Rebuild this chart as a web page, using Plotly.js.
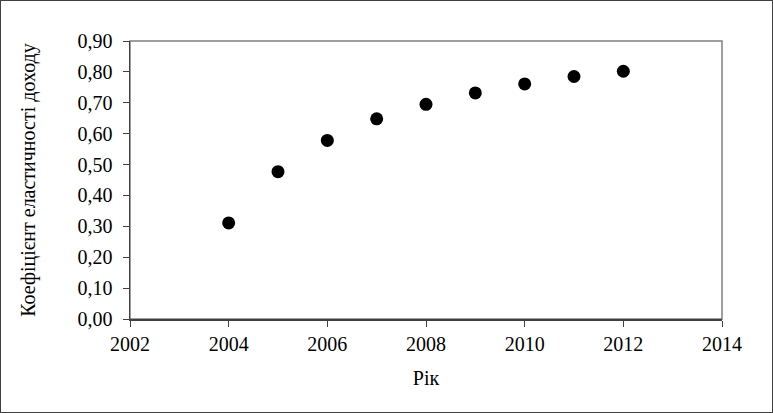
<!DOCTYPE html>
<html>
<head>
<meta charset="utf-8">
<script src="https://cdn.plot.ly/plotly-3.0.1.min.js"></script>
<style>
html,body{margin:0;padding:0;background:#fff;}
#chart{width:771px;height:411px;border:1px solid #404040;}
</style>
</head>
<body>
<div id="chart"></div>
<script>
const years = [2004, 2005, 2006, 2007, 2008, 2009, 2010, 2011, 2012];
const elasticity = [0.311, 0.477, 0.578, 0.648, 0.695, 0.732, 0.761, 0.785, 0.802];
const xTitle = 'Рік';
const yTitle = 'Коефіцієнт еластичності доходу';

const serif = 'Liberation Serif, serif';

Plotly.newPlot('chart', [{
  x: years, y: elasticity, type: 'scatter', mode: 'markers',
  marker: {color: '#000', size: 13},
  hoverinfo: 'skip'
}], {
  width: 771, height: 411,
  margin: {l: 129, r: 50, t: 40, b: 93},
  paper_bgcolor: '#fff', plot_bgcolor: '#fff',
  font: {family: serif, color: '#000', size: 20},
  separators: ', ',
  showlegend: false,
  xaxis: {
    range: [2002, 2014], dtick: 2, tick0: 2002, tickformat: 'd',
    showgrid: false, zeroline: false,
    showline: true, linecolor: '#404040', linewidth: 1.5,
    ticks: 'outside', ticklen: 6, tickcolor: '#404040', tickwidth: 1,
    ticklabelstandoff: 0,
    tickfont: {family: serif, size: 20},
    title: {text: xTitle, font: {family: serif, size: 20}, standoff: 17}
  },
  yaxis: {
    range: [0, 0.9], dtick: 0.1, tick0: 0, tickformat: '.2f',
    showgrid: false, zeroline: false,
    showline: true, linecolor: '#404040', linewidth: 1.5,
    ticks: 'outside', ticklen: 6, tickcolor: '#404040', tickwidth: 1,
    ticklabelstandoff: 6,
    tickfont: {family: serif, size: 20},
    title: {text: yTitle, font: {family: serif, size: 20}, standoff: 36}
  },
  shapes: [{
    type: 'rect', xref: 'paper', yref: 'paper', x0: 0, x1: 1, y0: 0, y1: 1,
    line: {color: '#808080', width: 1.5}, layer: 'below'
  }]
}, {staticPlot: true});
</script>
</body>
</html>
